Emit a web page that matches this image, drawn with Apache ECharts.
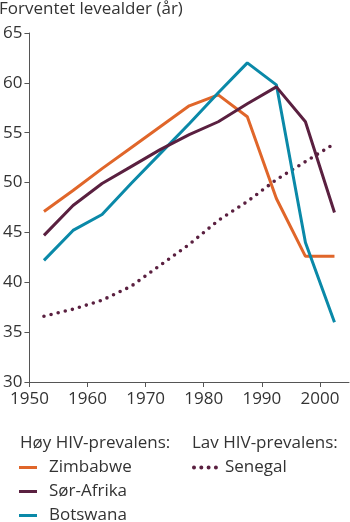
<!DOCTYPE html>
<html>
<head>
<meta charset="utf-8">
<script src="https://cdn.jsdelivr.net/npm/echarts@6/dist/echarts.min.js"></script>
<style>
html,body{margin:0;padding:0;background:#fff;}
#chart{width:350px;height:522px;}
</style>
</head>
<body>
<div id="chart"></div>
<script>
var years = [1952.5, 1957.5, 1962.5, 1967.5, 1972.5, 1977.5, 1982.5, 1987.5, 1992.5, 1997.5, 2002.5];
var zimbabwe = [47.1, 49.2, 51.4, 53.5, 55.6, 57.7, 58.8, 56.6, 48.4, 42.6, 42.6];
var sorAfrika = [44.7, 47.7, 49.9, 51.6, 53.3, 54.8, 56.1, 57.9, 59.6, 56.1, 47.0];
var botswana = [42.2, 45.2, 46.8, 49.9, 52.9, 55.9, 59.0, 62.0, 59.8, 44.0, 36.0];
var senegal = [36.6, 37.3, 38.2, 39.6, 41.7, 43.8, 46.2, 48.1, 50.3, 52.1, 53.9];
var xTicks = [1950, 1960, 1970, 1980, 1990, 2000];
var yTicks = [30, 35, 40, 45, 50, 55, 60, 65];
var titleText = 'Forventet levealder (år)';
var groupHigh = 'Høy HIV-prevalens:';
var groupLow = 'Lav HIV-prevalens:';

var FONT = 'Open Sans';
var FS = 17;
var TXT = '#333';
function pairs(xs, ys) { return xs.map(function (x, i) { return [x, ys[i]]; }); }

// four round dots for the dotted legend key
var dotsIcon = 'path://' + [0, 1, 2, 3].map(function (i) {
  var cx = 2 + i * 7.3;
  return 'M' + (cx - 2) + ',2 A2,2 0 1,0 ' + (cx + 2) + ',2 A2,2 0 1,0 ' + (cx - 2) + ',2 Z';
}).join(' ');

var chart = echarts.init(document.getElementById('chart'), null, {renderer: 'canvas'});
chart.setOption({
  animation: false,
  backgroundColor: '#fff',
  textStyle: {fontFamily: FONT},
  title: [
    {text: titleText, left: -1, top: 1, padding: 0, textStyle: {fontFamily: FONT, fontSize: FS, fontWeight: 'normal', color: TXT}},
    {text: groupHigh, left: 20, top: 435, padding: 0, textStyle: {fontFamily: FONT, fontSize: FS, fontWeight: 'normal', color: TXT}},
    {text: groupLow, left: 192, top: 435, padding: 0, textStyle: {fontFamily: FONT, fontSize: FS, fontWeight: 'normal', color: TXT}}
  ],
  legend: [
    {
      data: ['Zimbabwe', 'Sør-Afrika', 'Botswana'],
      orient: 'vertical', left: 19, top: 459, height: 90, padding: 0,
      icon: 'rect', itemWidth: 18, itemHeight: 3, itemGap: 7,
      textStyle: {fontFamily: FONT, fontSize: FS, color: TXT, padding: [0, 0, 0, 7], lineHeight: 17}
    },
    {
      data: [{name: 'Senegal', icon: dotsIcon}],
      orient: 'vertical', left: 192, top: 459, height: 90, padding: 0,
      itemWidth: 26, itemHeight: 4, itemGap: 7,
      textStyle: {fontFamily: FONT, fontSize: FS, color: TXT, padding: [0, 0, 0, 2], lineHeight: 17}
    }
  ],
  grid: {left: 28, right: 1, top: 33, bottom: 140, containLabel: false},
  xAxis: {
    type: 'value', min: 1950, max: 2005, interval: 10,
    axisLine: {show: true, lineStyle: {color: '#555', width: 1}},
    axisTick: {show: true, length: 5, lineStyle: {color: '#555'}, customValues: xTicks},
    axisLabel: {fontFamily: FONT, fontSize: FS, color: TXT, margin: 9, customValues: xTicks,
      formatter: function (v) { return String(v); }},
    splitLine: {show: false}
  },
  yAxis: {
    type: 'value', min: 30, max: 65, interval: 5,
    axisLine: {show: true, lineStyle: {color: '#555', width: 1}},
    axisTick: {show: true, length: 5, lineStyle: {color: '#555'}},
    axisLabel: {fontFamily: FONT, fontSize: FS, color: TXT, margin: 7},
    splitLine: {show: false}
  },
  series: [
    {name: 'Senegal', type: 'line', data: pairs(years, senegal), symbol: 'none',
     lineStyle: {color: '#5a2040', width: 3.6, type: [0, 7.3], cap: 'round'}, itemStyle: {color: '#5a2040'}},
    {name: 'Zimbabwe', type: 'line', data: pairs(years, zimbabwe), symbol: 'none',
     lineStyle: {color: '#e0662a', width: 3}, itemStyle: {color: '#e0662a'}},
    {name: 'Botswana', type: 'line', data: pairs(years, botswana), symbol: 'none',
     lineStyle: {color: '#0a89a8', width: 3}, itemStyle: {color: '#0a89a8'}},
    {name: 'Sør-Afrika', type: 'line', data: pairs(years, sorAfrika), symbol: 'none',
     lineStyle: {color: '#5a2040', width: 3}, itemStyle: {color: '#5a2040'}}
  ]
});
</script>
</body>
</html>
